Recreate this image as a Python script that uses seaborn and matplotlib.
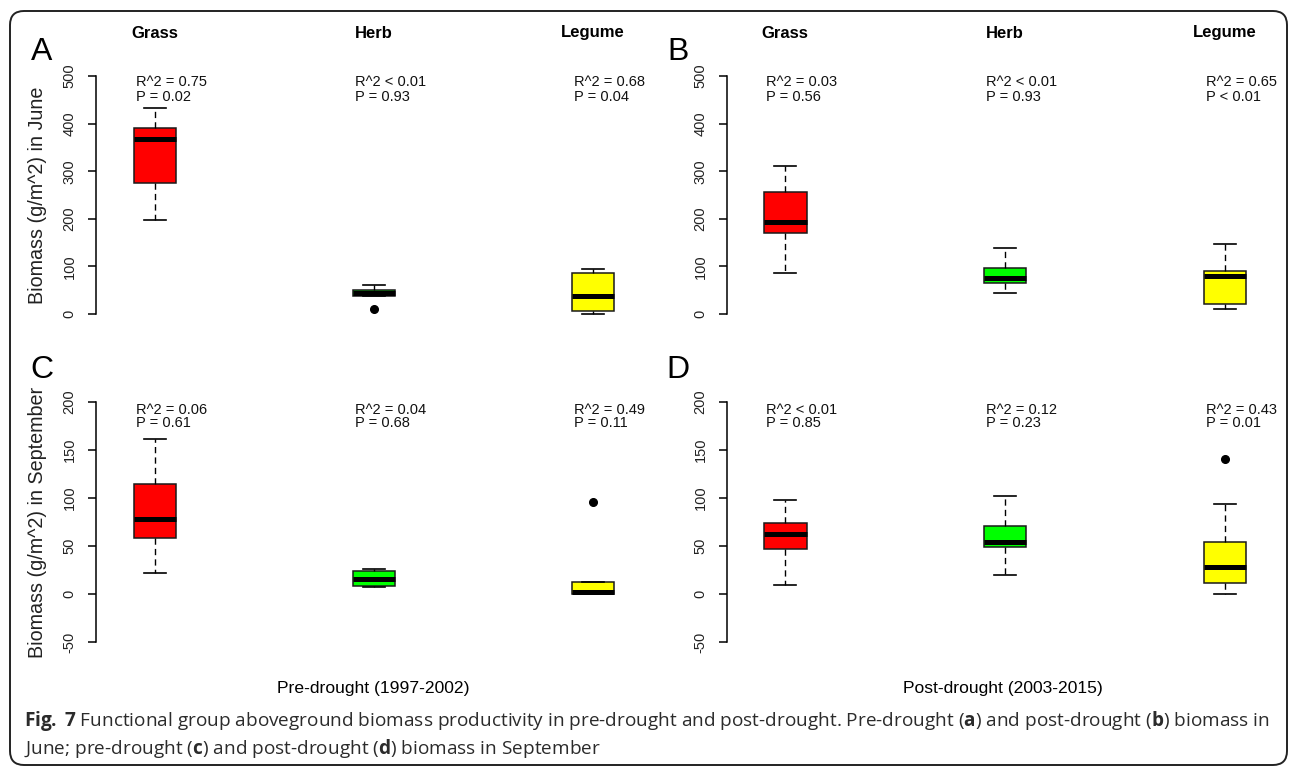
import matplotlib
matplotlib.use("Agg")
import matplotlib.pyplot as plt
from matplotlib.patches import FancyBboxPatch
from matplotlib.transforms import IdentityTransform
import pandas as pd
import seaborn as sns

# ---------------- data ----------------
groups = ["Grass", "Herb", "Legume"]
group_colors = ["#FF0000", "#00FF00", "#FFFF00"]

# Panel A: pre-drought, June biomass (g/m^2)
june_pre_grass = [197, 275, 368, 391, 433]
june_pre_herb = [11, 38, 38, 40, 44, 47, 50, 55, 61]
june_pre_legume = [0, 6, 38, 86, 95]
# Panel B: post-drought, June
june_post_grass = [86, 170, 193, 256, 311]
june_post_herb = [44, 65, 76, 97, 139]
june_post_legume = [10, 21, 80, 90, 147]
# Panel C: pre-drought, September
sept_pre_grass = [22, 58, 78, 115, 161]
sept_pre_herb = [7, 8, 15.5, 24, 26]
sept_pre_legume = [0, 0, 0, 1, 2.5, 8, 12.5, 12.5, 96]
# Panel D: post-drought, September
sept_post_grass = [9.5, 47, 63, 74, 97.5]
sept_post_herb = [19.5, 48.5, 54.5, 71, 102]
sept_post_legume = [0, 5, 11, 20, 28, 40, 54, 94, 141]

r2_a = ["R^2 = 0.75", "R^2 < 0.01", "R^2 = 0.68"]
p_a = ["P = 0.02", "P = 0.93", "P = 0.04"]
r2_b = ["R^2 = 0.03", "R^2 < 0.01", "R^2 = 0.65"]
p_b = ["P = 0.56", "P = 0.93", "P < 0.01"]
r2_c = ["R^2 = 0.06", "R^2 = 0.04", "R^2 = 0.49"]
p_c = ["P = 0.61", "P = 0.68", "P = 0.11"]
r2_d = ["R^2 < 0.01", "R^2 = 0.12", "R^2 = 0.43"]
p_d = ["P = 0.85", "P = 0.23", "P = 0.01"]

june_ticks = [0, 100, 200, 300, 400, 500]
sept_ticks = [-50, 0, 50, 100, 150, 200]
panel_letters = ["A", "B", "C", "D"]
period_labels = ["Pre-drought (1997-2002)", "Post-drought (2003-2015)"]
y_labels = ["Biomass (g/m^2) in June", "Biomass (g/m^2) in September"]
caption_line1 = (r"$\mathbf{Fig.\:7}$ Functional group aboveground biomass productivity "
                 r"in pre-drought and post-drought. Pre-drought ($\mathbf{a}$) and "
                 r"post-drought ($\mathbf{b}$) biomass in")
caption_line2 = (r"June; pre-drought ($\mathbf{c}$) and post-drought ($\mathbf{d}$) "
                 r"biomass in September")

# ---------------- figure ----------------
W, H = 1290, 770
plt.rcParams['font.family'] = ['Liberation Sans', 'DejaVu Sans']
plt.rcParams['mathtext.fontset'] = 'custom'
plt.rcParams['mathtext.rm'] = 'Open Sans'
plt.rcParams['mathtext.bf'] = 'Open Sans:bold'
fig = plt.figure(figsize=(W / 100, H / 100), dpi=100, facecolor="white")


def px_axes(left, top, right, bottom):
    return fig.add_axes([left / W, 1 - bottom / H, (right - left) / W, (bottom - top) / H])


def fx(x):
    return x / W


def fy(y):
    return 1 - y / H


palette = dict(zip(groups, group_colors))

panels = [
    dict(data=[june_pre_grass, june_pre_herb, june_pre_legume], r2=r2_a, p=p_a,
         box=(96, 60, 640, 330), xlim=(-0.269, 2.215), ylim=(-33.6, 533.6),
         ticks=june_ticks, text_y=(487, 456), letter_xy=(42, 52), titles=True),
    dict(data=[june_post_grass, june_post_herb, june_post_legume], r2=r2_b, p=p_b,
         box=(727, 60, 1282, 330), xlim=(-0.264, 2.259), ylim=(-33.6, 533.6),
         ticks=june_ticks, text_y=(487, 456), letter_xy=(678, 52), titles=True),
    dict(data=[sept_pre_grass, sept_pre_herb, sept_pre_legume], r2=r2_c, p=p_c,
         box=(96, 390, 640, 660), xlim=(-0.269, 2.215), ylim=(-68.75, 212.5),
         ticks=sept_ticks, text_y=(192, 178.5), letter_xy=(42, 370), titles=False),
    dict(data=[sept_post_grass, sept_post_herb, sept_post_legume], r2=r2_d, p=p_d,
         box=(727, 390, 1282, 660), xlim=(-0.264, 2.259), ylim=(-68.75, 212.5),
         ticks=sept_ticks, text_y=(192, 178.5), letter_xy=(678, 370), titles=False),
]

for k, pn in enumerate(panels):
    ax = px_axes(*pn["box"])
    cats, vals = [], []
    for g, arr in zip(groups, pn["data"]):
        cats += [g] * len(arr)
        vals += list(arr)
    df = pd.DataFrame({"group": cats, "biomass": vals})
    sns.boxplot(data=df, x="group", y="biomass", hue="group", order=groups,
                hue_order=groups, palette=palette, legend=False, ax=ax,
                width=0.195, saturation=1, linecolor="black", linewidth=1.0,
                fliersize=5.5,
                boxprops=dict(edgecolor="#1a1a1a", linewidth=1.1),
                whiskerprops=dict(color="black", linewidth=1.0, linestyle=(0, (4.5, 3))),
                capprops=dict(color="black", linewidth=1.2),
                medianprops=dict(color="black", linewidth=3.6, solid_capstyle="butt"),
                flierprops=dict(marker="o", markerfacecolor="black",
                                markeredgecolor="black"))
    ax.set_xlim(*pn["xlim"])
    ax.set_ylim(*pn["ylim"])
    ax.set_xlabel("")
    ax.set_ylabel("")
    ax.set_xticks([])
    ax.set_yticks(pn["ticks"])
    ax.set_yticklabels([str(t) for t in pn["ticks"]])
    for side in ["top", "right", "bottom"]:
        ax.spines[side].set_visible(False)
    ax.spines["left"].set_bounds(pn["ticks"][0], pn["ticks"][-1])
    ax.spines["left"].set_linewidth(1.1)
    ax.tick_params(axis="y", length=5.5, width=1.1, pad=8.5, labelsize=10.5,
                   colors="black")
    for lab in ax.get_yticklabels():
        lab.set_rotation(90)
        lab.set_va("center")
        lab.set_color("#222222")
    ax.patch.set_alpha(0)

    for i in range(3):
        ax.text(i - 0.085, pn["text_y"][0], pn["r2"][i], ha="left", va="center",
                fontsize=10.5, color="#111111")
        ax.text(i - 0.085, pn["text_y"][1], pn["p"][i], ha="left", va="center",
                fontsize=10.5, color="#111111")
        if pn["titles"]:
            ax.text(i, 1 + 27 / 270, groups[i], transform=ax.get_xaxis_transform(),
                    ha="center", va="center", fontsize=12, fontweight="bold")

    lx, ly = pn["letter_xy"]
    fig.text(fx(lx), fy(ly), panel_letters[k], ha="center", va="center",
             fontsize=23, color="black")

fig.text(fx(38), fy(195), y_labels[0], rotation=90, ha="center", va="center",
         fontsize=14.2, color="#222222")
fig.text(fx(38), fy(522), y_labels[1], rotation=90, ha="center", va="center",
         fontsize=14.2, color="#222222")
fig.text(fx(373), fy(688), period_labels[0], ha="center", va="center", fontsize=12.6)
fig.text(fx(1003), fy(688), period_labels[1], ha="center", va="center", fontsize=12.6)

# ---------------- caption ----------------
cap_color = "#2b2b2b"
renderer = fig.canvas.get_renderer()
base = 13.0
cap1 = fig.text(fx(24), fy(721), caption_line1, fontsize=base, family="Open Sans",
                ha="left", va="center", color=cap_color)
w1 = cap1.get_window_extent(renderer=renderer).width
size = base * (1240 / w1)
cap1.set_fontsize(size)
fig.text(fx(24), fy(748), caption_line2, fontsize=size, family="Open Sans",
         ha="left", va="center", color=cap_color)

# ---------------- border ----------------
border = FancyBboxPatch((10, H - 765), 1277, 754,
                        boxstyle="round,pad=0,rounding_size=14",
                        transform=IdentityTransform(), fill=False,
                        edgecolor="#222222", linewidth=1.4)
fig.patches.append(border)

fig.savefig("out.png", dpi=100, facecolor="white")
